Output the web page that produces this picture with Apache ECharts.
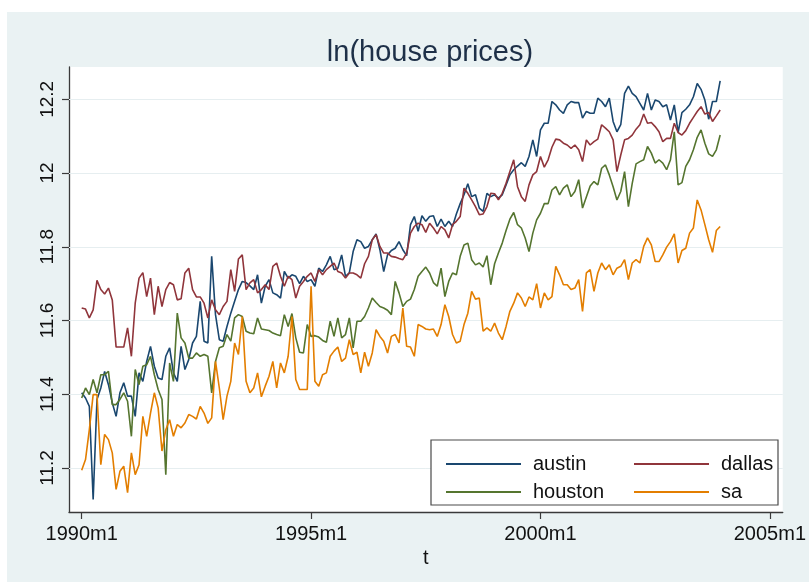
<!DOCTYPE html>
<html>
<head>
<meta charset="utf-8">
<script src="https://cdn.jsdelivr.net/npm/echarts@6/dist/echarts.min.js"></script>
<style>
html,body{margin:0;padding:0;background:#ffffff;}
#bg{position:absolute;left:7px;top:12px;width:802px;height:570px;background:#eaf2f3;}
#chart{position:absolute;left:0;top:0;width:809px;height:582px;}
</style>
</head>
<body>
<div id="bg"></div>
<div id="chart"></div>
<script>
// Monthly observations, 1990m1 .. 2003m12 (168 months)
const startYear = 1990;
const seriesNames = ['austin', 'dallas', 'houston', 'sa'];

const austin = [
11.404,11.390,11.367,11.115,11.386,11.417,11.462,11.426,11.377,11.340,11.404,11.431,
11.395,11.395,11.340,11.458,11.435,11.489,11.530,11.476,11.444,11.440,11.503,11.526,
11.458,11.435,11.530,11.467,11.494,11.539,11.557,11.652,11.544,11.539,11.774,11.616,
11.548,11.544,11.584,11.620,11.652,11.684,11.706,11.703,11.694,11.684,11.724,11.647,
11.693,11.711,11.675,11.670,11.661,11.733,11.715,11.724,11.720,11.700,11.720,11.706,
11.711,11.693,11.742,11.733,11.751,11.774,11.738,11.742,11.778,11.720,11.729,11.787,
11.819,11.814,11.796,11.801,11.819,11.835,11.792,11.733,11.778,11.790,11.796,11.814,
11.792,11.776,11.860,11.882,11.842,11.884,11.869,11.882,11.884,11.855,11.875,11.855,
11.869,11.855,11.889,11.917,11.941,11.971,11.936,11.941,11.905,11.896,11.945,11.936,
11.941,11.932,11.941,11.968,11.995,12.009,12.019,12.028,12.018,12.045,12.090,12.045,
12.117,12.135,12.135,12.194,12.185,12.171,12.162,12.185,12.194,12.191,12.191,12.149,
12.167,12.162,12.162,12.203,12.194,12.180,12.203,12.140,12.112,12.131,12.216,12.236,
12.216,12.207,12.189,12.171,12.216,12.171,12.198,12.194,12.180,12.185,12.144,12.185,
12.110,12.164,12.173,12.185,12.207,12.243,12.227,12.198,12.146,12.194,12.194,12.250
];

const dallas = [
11.634,11.631,11.607,11.629,11.709,11.684,11.672,11.688,11.656,11.528,11.528,11.528,
11.580,11.503,11.647,11.715,11.730,11.665,11.715,11.616,11.693,11.638,11.684,11.703,
11.697,11.656,11.659,11.729,11.742,11.684,11.664,11.664,11.647,11.607,11.656,11.629,
11.616,11.638,11.652,11.738,11.679,11.767,11.778,11.684,11.702,11.711,11.675,11.684,
11.697,11.684,11.747,11.756,11.720,11.693,11.720,11.711,11.661,11.693,11.706,11.720,
11.729,11.706,11.738,11.724,11.738,11.747,11.756,11.733,11.729,11.715,11.729,11.729,
11.724,11.715,11.754,11.774,11.819,11.833,11.801,11.783,11.783,11.774,11.772,11.768,
11.765,11.783,11.837,11.855,11.864,11.860,11.839,11.864,11.851,11.835,11.855,11.846,
11.824,11.860,11.869,11.882,11.959,11.945,11.927,11.909,11.887,11.889,11.909,11.945,
11.944,11.927,11.945,11.972,12.004,12.036,11.963,11.936,11.923,11.968,11.995,12.004,
12.045,12.016,12.036,12.070,12.092,12.090,12.081,12.076,12.067,12.076,12.063,12.031,
12.090,12.076,12.085,12.092,12.131,12.122,12.112,12.090,12.004,12.049,12.090,12.094,
12.103,12.119,12.131,12.160,12.135,12.137,12.126,12.112,12.085,12.094,12.094,12.135,
12.110,12.103,12.115,12.135,12.151,12.167,12.180,12.160,12.164,12.140,12.155,12.171
];

const houston = [
11.390,11.417,11.399,11.440,11.404,11.453,11.453,11.462,11.372,11.372,11.386,11.404,
11.381,11.286,11.467,11.426,11.476,11.480,11.503,11.453,11.413,11.386,11.182,11.485,
11.435,11.620,11.553,11.539,11.498,11.498,11.512,11.503,11.508,11.503,11.404,11.489,
11.526,11.530,11.562,11.544,11.607,11.616,11.611,11.571,11.566,11.564,11.607,11.577,
11.575,11.573,11.566,11.562,11.559,11.616,11.584,11.619,11.553,11.514,11.512,11.589,
11.557,11.559,11.555,11.546,11.541,11.598,11.557,11.607,11.553,11.562,11.607,11.526,
11.598,11.598,11.611,11.634,11.661,11.649,11.638,11.634,11.628,11.616,11.706,11.675,
11.638,11.652,11.658,11.684,11.720,11.733,11.745,11.729,11.703,11.693,11.742,11.665,
11.706,11.729,11.724,11.774,11.805,11.810,11.765,11.751,11.756,11.745,11.776,11.697,
11.754,11.783,11.810,11.844,11.875,11.893,11.860,11.851,11.824,11.787,11.837,11.873,
11.891,11.917,11.917,11.954,11.963,11.941,11.959,11.968,11.936,11.950,11.982,11.905,
11.935,11.965,11.977,11.968,12.013,12.022,11.995,11.963,11.927,11.950,12.004,11.909,
11.972,12.025,12.031,12.036,12.072,12.054,12.027,12.036,12.027,12.009,12.036,12.112,
11.968,11.974,12.018,12.036,12.063,12.097,12.117,12.081,12.052,12.045,12.063,12.103
];

const sa = [
11.194,11.223,11.304,11.399,11.399,11.209,11.291,11.277,11.241,11.142,11.191,11.205,
11.133,11.241,11.182,11.209,11.340,11.286,11.349,11.404,11.363,11.246,11.304,11.331,
11.286,11.318,11.309,11.322,11.345,11.340,11.333,11.367,11.349,11.321,11.336,11.489,
11.417,11.331,11.395,11.435,11.539,11.508,11.611,11.435,11.404,11.417,11.458,11.393,
11.422,11.449,11.489,11.417,11.485,11.458,11.503,11.611,11.440,11.413,11.413,11.413,
11.693,11.435,11.422,11.453,11.458,11.503,11.517,11.528,11.489,11.498,11.548,11.508,
11.514,11.458,11.514,11.476,11.512,11.575,11.557,11.544,11.512,11.557,11.562,11.539,
11.634,11.530,11.528,11.503,11.589,11.584,11.577,11.575,11.577,11.557,11.589,11.643,
11.611,11.562,11.539,11.544,11.589,11.620,11.679,11.658,11.661,11.571,11.580,11.571,
11.593,11.566,11.548,11.584,11.625,11.647,11.675,11.661,11.638,11.664,11.656,11.700,
11.634,11.675,11.656,11.665,11.747,11.724,11.697,11.697,11.684,11.688,11.711,11.625,
11.729,11.738,11.679,11.729,11.756,11.738,11.751,11.724,11.742,11.747,11.765,11.711,
11.756,11.765,11.756,11.801,11.824,11.805,11.760,11.760,11.778,11.799,11.814,11.835,
11.756,11.790,11.796,11.837,11.851,11.927,11.900,11.860,11.819,11.785,11.844,11.855
];

// Axis ticks (months since 1990m1) and their labels
const xTickValues = [0, 60, 120, 180];
const xTickLabels = ['1990m1', '1995m1', '2000m1', '2005m1'];
const yTickValues = [11.2, 11.4, 11.6, 11.8, 12, 12.2];
const yTickLabels = ['11.2', '11.4', '11.6', '11.8', '12', '12.2'];

const colors = { austin: '#1a476f', dallas: '#90353b', houston: '#55752f', sa: '#e37e00' };
const dataMap = { austin, dallas, houston, sa };

const FONT = "'Liberation Sans', Arial, sans-serif";

function toPairs(arr) { return arr.map((v, i) => [i, v]); }

const chart = echarts.init(document.getElementById('chart'), null, { renderer: 'canvas' });

const series = seriesNames.map((name, idx) => ({
  name,
  type: 'line',
  data: toPairs(dataMap[name]),
  symbol: 'none',
  showSymbol: false,
  silent: true,
  animation: false,
  z: 3,
  lineStyle: { color: colors[name], width: 1.6 },
  itemStyle: { color: colors[name] },
  markLine: idx === 0 ? {
    silent: true,
    symbol: 'none',
    label: { show: false },
    animation: false,
    z: 1,
    lineStyle: { color: '#e6eef0', width: 1, type: 'solid' },
    data: yTickValues.map(v => ({ yAxis: v }))
  } : undefined
}));

const legendCommon = {
  orient: 'vertical',
  top: 449,
  itemWidth: 75, itemHeight: 20, itemGap: 8,
  z: 60,
  itemStyle: { opacity: 0 },
  lineStyle: { width: 2 },
  textStyle: { fontFamily: FONT, fontSize: 20, color: '#111', padding: [0, 0, 0, 7] }
};

chart.setOption({
  backgroundColor: 'transparent',
  animation: false,
  title: {
    text: 'ln(house prices)',
    left: 425,
    top: 33,
    textAlign: 'center',
    textStyle: { fontFamily: FONT, fontSize: 29, fontWeight: 'normal', color: '#1e3048' }
  },
  grid: {
    left: 69, top: 67, right: 25, bottom: 70,
    show: true, backgroundColor: '#ffffff', borderWidth: 0
  },
  xAxis: {
    type: 'value',
    min: -3.32,
    max: 183.37,
    name: 't',
    nameLocation: 'middle',
    nameGap: 33,
    nameTextStyle: { fontFamily: FONT, fontSize: 20, color: '#111' },
    axisLine: { show: true, onZero: false, lineStyle: { color: '#3a3a3a', width: 1.3 } },
    axisTick: { show: true, length: 7, customValues: xTickValues, lineStyle: { color: '#3a3a3a', width: 1.2 } },
    axisLabel: {
      customValues: xTickValues,
      margin: 12,
      fontFamily: FONT, fontSize: 20, color: '#111',
      formatter: v => xTickLabels[xTickValues.indexOf(Math.round(v))] || ''
    },
    splitLine: { show: false }
  },
  yAxis: {
    type: 'value',
    min: 11.0807,
    max: 12.2876,
    axisLine: { show: true, onZero: false, lineStyle: { color: '#3a3a3a', width: 1.3 } },
    axisTick: { show: true, length: 7, customValues: yTickValues, lineStyle: { color: '#3a3a3a', width: 1.2 } },
    axisLabel: {
      customValues: yTickValues,
      rotate: 90,
      margin: 12,
      fontFamily: FONT, fontSize: 19, color: '#111',
      formatter: v => {
        const i = yTickValues.findIndex(t => Math.abs(t - v) < 1e-6);
        return i >= 0 ? yTickLabels[i] : '';
      }
    },
    splitLine: { show: false }
  },
  graphic: [{
    type: 'rect',
    z: 50,
    shape: { x: 431, y: 440, width: 347, height: 65 },
    style: { fill: '#ffffff', stroke: '#4a4a4a', lineWidth: 1.2 }
  }],
  legend: [
    Object.assign({ data: ['austin', 'houston'], left: 440 }, legendCommon),
    Object.assign({ data: ['dallas', 'sa'], left: 628 }, legendCommon)
  ],
  series
});
</script>
</body>
</html>
